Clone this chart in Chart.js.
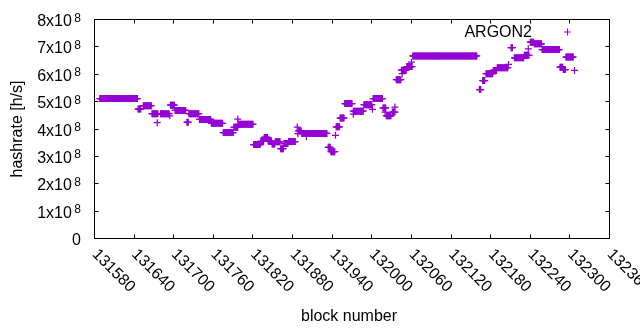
<!DOCTYPE html>
<html>
<head>
<meta charset="utf-8">
<script src="https://cdn.jsdelivr.net/npm/chart.js@4.4.1/dist/chart.umd.min.js"></script>
<style>
  body { margin: 0; background: #ffffff; }
  #wrap { width: 640px; height: 330px; }
</style>
</head>
<body>
<div id="wrap"><canvas id="hashChart" width="640" height="330"></canvas></div>
<script>
// hashrate stays flat between difficulty changes, so each run is
// first block, last block and the rate (h/s)
const runFrom = [131588, 131646, 131654, 131667, 131680, 131695, 131702, 131720, 131723, 131739,
                 131757, 131775, 131791, 131798, 131821, 131832, 131837, 131843, 131849, 131854,
                 131862, 131867, 131874, 131889, 131894, 131934, 131938, 131946, 131952, 131959,
                 131972, 131988, 132002, 132017, 132022, 132031, 132037, 132045, 132053, 132062,
                 132163, 132168, 132173, 132184, 132190, 132211, 132216, 132231, 132240, 132246,
                 132258, 132285, 132290, 132294];
const runTo =   [131645, 131650, 131666, 131676, 131693, 131701, 131718, 131722, 131738, 131756,
                 131774, 131790, 131797, 131820, 131831, 131836, 131842, 131848, 131853, 131861,
                 131866, 131873, 131884, 131893, 131932, 131937, 131944, 131951, 131958, 131970,
                 131987, 132000, 132016, 132021, 132029, 132035, 132044, 132052, 132061, 132159,
                 132165, 132171, 132183, 132189, 132206, 132213, 132230, 132238, 132245, 132257,
                 132284, 132289, 132293, 132305];
const runRate = [5.11e8, 4.73e8, 4.85e8, 4.56e8, 4.56e8, 4.87e8, 4.68e8, 4.25e8, 4.56e8, 4.35e8,
                 4.21e8, 3.87e8, 4.06e8, 4.17e8, 3.43e8, 3.55e8, 3.69e8, 3.56e8, 3.45e8, 3.53e8,
                 3.28e8, 3.47e8, 3.54e8, 3.93e8, 3.84e8, 3.33e8, 3.17e8, 4.08e8, 4.40e8, 4.93e8,
                 4.65e8, 4.89e8, 5.11e8, 4.77e8, 4.48e8, 4.62e8, 5.80e8, 6.15e8, 6.28e8, 6.67e8,
                 5.44e8, 5.77e8, 6.02e8, 6.14e8, 6.24e8, 6.97e8, 6.60e8, 6.69e8, 7.17e8, 7.11e8,
                 6.90e8, 6.26e8, 6.17e8, 6.63e8];

// stray blocks off their run
const singleBlock = [131675, 131694, 131797, 131887, 131888, 131901, 131945, 131972, 132001, 132020,
                     132035, 132046, 132060, 132207, 132237, 132307];
const singleRate =  [4.23e8, 4.48e8, 4.36e8, 4.07e8, 3.83e8, 3.73e8, 3.77e8, 4.54e8, 4.72e8, 4.62e8,
                     4.80e8, 6.02e8, 6.44e8, 6.36e8, 6.93e8, 6.14e8];

const xTicks = [131580, 131640, 131700, 131760, 131820, 131880, 131940,
                132000, 132060, 132120, 132180, 132240, 132300, 132360];
const yTicks = [0, 1e8, 2e8, 3e8, 4e8, 5e8, 6e8, 7e8, 8e8];
const yTickLabels = ['0', '1x10', '2x10', '3x10', '4x10', '5x10', '6x10', '7x10', '8x10'];
const yTickExp = '8';

const seriesName = 'ARGON2';
const purple = '#9400d3';
const FONT = '"Liberation Sans", Arial, sans-serif';

let points = [];
for (let i = 0; i < runFrom.length; i++) {
    for (let b = runFrom[i]; b <= runTo[i]; b++) {
        points.push({ x: b, y: runRate[i] });
    }
}
for (let i = 0; i < singleBlock.length; i++) {
    points.push({ x: singleBlock[i], y: singleRate[i] });
}

// gnuplot-like frame: border, inward ticks on all sides, labels
const gnuplotFrame = {
    id: 'gnuplotFrame',
    afterDatasetsDraw(chart) {
        const ctx = chart.ctx;
        const area = chart.chartArea;
        const xs = chart.scales.x;
        const ys = chart.scales.y;
        const tick = 4;

        ctx.save();
        ctx.strokeStyle = '#000';
        ctx.lineWidth = 1;
        ctx.strokeRect(area.left, area.top, area.right - area.left, area.bottom - area.top);

        ctx.beginPath();
        xTicks.forEach(v => {
            const px = Math.round(xs.getPixelForValue(v) - 0.5) + 0.5;
            ctx.moveTo(px, area.bottom); ctx.lineTo(px, area.bottom - tick);
            ctx.moveTo(px, area.top); ctx.lineTo(px, area.top + tick);
        });
        yTicks.forEach(v => {
            const py = Math.round(ys.getPixelForValue(v) - 0.5) + 0.5;
            ctx.moveTo(area.left, py); ctx.lineTo(area.left + tick, py);
            ctx.moveTo(area.right, py); ctx.lineTo(area.right - tick, py);
        });
        ctx.stroke();

        ctx.fillStyle = '#000';

        // y tick labels with raised exponent
        yTicks.forEach((v, i) => {
            const py = ys.getPixelForValue(v);
            ctx.textAlign = 'right';
            ctx.textBaseline = 'alphabetic';
            if (v === 0) {
                ctx.font = '16px ' + FONT;
                ctx.fillText(yTickLabels[i], 81, py + 6.5);
                return;
            }
            ctx.font = '12px ' + FONT;
            const expW = ctx.measureText(yTickExp).width;
            ctx.fillText(yTickExp, 81, py + 2);
            ctx.font = '16px ' + FONT;
            ctx.fillText(yTickLabels[i], 81 - expW - 2.5, py + 6.5);
        });

        // x tick labels, rotated 45 deg clockwise
        ctx.font = '16px ' + FONT;
        ctx.textAlign = 'left';
        ctx.textBaseline = 'alphabetic';
        xTicks.forEach(v => {
            const px = xs.getPixelForValue(v);
            ctx.save();
            ctx.translate(px - 3, 255);
            ctx.rotate(Math.PI / 4);
            ctx.fillText(String(v), 0, 0);
            ctx.restore();
        });

        // axis titles
        ctx.textAlign = 'center';
        ctx.fillText('block number', 349, 321);
        ctx.save();
        ctx.translate(22, 129);
        ctx.rotate(-Math.PI / 2);
        ctx.fillText('hashrate [h/s]', 0, 0);
        ctx.restore();

        // key
        ctx.textAlign = 'right';
        ctx.fillText(seriesName, 532, 37);
        ctx.strokeStyle = purple;
        ctx.beginPath();
        ctx.moveTo(564, 32); ctx.lineTo(571, 32);
        ctx.moveTo(567.5, 28.5); ctx.lineTo(567.5, 35.5);
        ctx.stroke();

        ctx.restore();
    }
};

const ctx = document.getElementById('hashChart').getContext('2d');
const chartInstance = new Chart(ctx, {
    type: 'scatter',
    data: {
        datasets: [{
            label: seriesName,
            data: points,
            pointStyle: 'cross',
            pointRadius: 3.5,
            pointHoverRadius: 3.5,
            borderWidth: 1.25,
            borderColor: purple,
            backgroundColor: purple
        }]
    },
    options: {
        responsive: false,
        animation: false,
        events: [],
        layout: {
            padding: { left: 94.5, top: 19.5, right: 30.5, bottom: 91.5 }
        },
        plugins: {
            legend: { display: false },
            tooltip: { enabled: false }
        },
        scales: {
            x: { type: 'linear', min: 131580, max: 132360, display: false },
            y: { type: 'linear', min: 0, max: 8e8, display: false }
        }
    },
    plugins: [gnuplotFrame]
});
</script>
</body>
</html>
